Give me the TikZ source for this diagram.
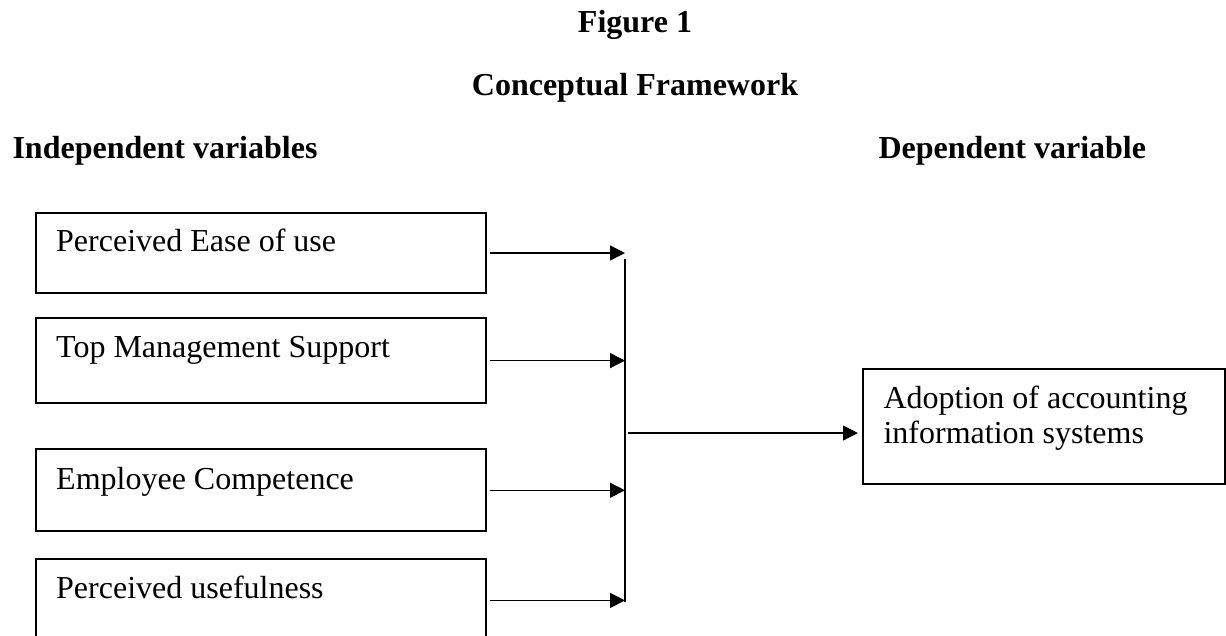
\documentclass[tikz,border=0pt]{standalone}
\usepackage{fontspec}
\setmainfont{Liberation Serif}
\usepackage{tikz}
\usetikzlibrary{arrows.meta, positioning}

\begin{document}
\begin{tikzpicture}[x=0.375pt, y=-0.375pt,
    font=\fontsize{12}{13.2}\selectfont,
    head/.style={font=\fontsize{12}{13.2}\selectfont\bfseries, inner sep=0pt},
    vbox/.style={draw, line width=0.8pt, minimum width=169pt, inner sep=0pt},
    vtext/.style={anchor=base west, inner sep=0pt, align=left},
    arr/.style={-{Triangle[length=5.6pt, width=5.6pt]}, line width=0.5pt},
    ]

    % page
    \path[use as bounding box, fill=white] (0,0) rectangle (1226,635);
    \clip (0,0) rectangle (1226,635);

    % Titles
    \node[head, anchor=base] (fig) at (635,32) {Figure 1};
    \node[head, anchor=base] (title) at (635,95) {Conceptual Framework};
    \node[head, anchor=base west] (indep) at (12,158) {Independent variables};
    \node[head, anchor=base west] (dep) at (878,158) {Dependent variable};

    % Independent variables
    \node[vbox, minimum height=30pt] (ease) at (261,253) {};
    \node[vtext] at ([xshift=7.9pt, yshift=-15pt]ease.north west) {Perceived Ease of use};

    \node[vbox, minimum height=31.9pt, below=8.6pt of ease] (topm) {};
    \node[vtext] at ([xshift=7.9pt, yshift=-15pt]topm.north west) {Top Management Support};

    \node[vbox, minimum height=30.75pt, below=16.5pt of topm] (comp) {};
    \node[vtext] at ([xshift=7.9pt, yshift=-15.4pt]comp.north west) {Employee Competence};

    \node[vbox, minimum height=30.75pt, below=9.75pt of comp] (usef) {};
    \node[vtext] at ([xshift=7.9pt, yshift=-15pt]usef.north west) {Perceived usefulness};

    % Dependent variable (base = last line)
    \node[vbox, minimum width=135.75pt, minimum height=43.1pt] (adopt) at (1044,426.5) {};
    \node[vtext] at ([xshift=7.9pt, yshift=-28.5pt]adopt.north west) {Adoption of accounting\\information systems};

    % Bar
    \coordinate (bartop) at (625,259);
    \coordinate (barbot) at (625,602);
    \coordinate (barmid) at (628,433);
    \draw[line width=0.5pt] (bartop) -- (barbot);

    % Arrows
    \foreach \b in {ease, topm, comp, usef} {
      \draw[arr] ([xshift=1.1pt]\b.east) -- (\b.east -| bartop);
    }
    \draw[arr, shorten >=1.5pt] (barmid) -- (barmid -| adopt.west);
  \end{tikzpicture}
\end{document}
